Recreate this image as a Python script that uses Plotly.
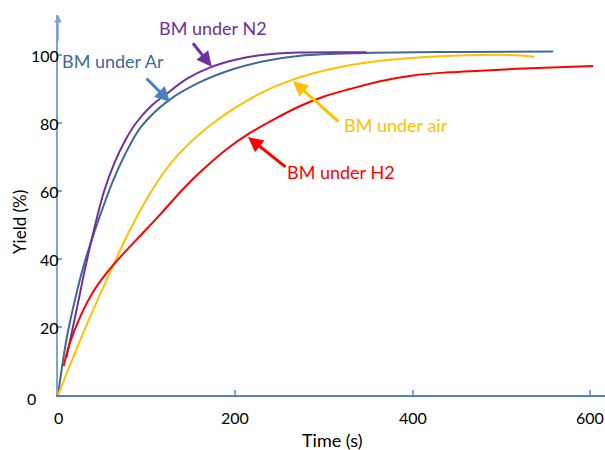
import plotly.graph_objects as go

# ---- data ----
t_ar = [0, 10, 20, 30, 45, 62, 80, 94, 124, 160, 197, 235, 273, 348, 450, 558]
y_ar = [0, 17, 29, 39, 51, 63, 73, 79, 86.5, 92, 95.8, 98.3, 99.8, 100.6, 100.9, 101]

t_n2 = [9.5, 16, 22.5, 30, 40, 52, 64, 76, 88, 105, 122, 145, 171, 200, 230, 270, 348]
y_n2 = [11, 19, 27, 36.5, 48, 60, 68.5, 75, 80, 85, 88.5, 93, 96.3, 98.6, 100, 100.7, 100.8]

t_air = [0, 28, 55, 80, 103, 125, 150, 175, 200, 230, 263, 310, 363, 419, 476, 510, 537]
y_air = [0, 18, 34, 48, 59, 67.5, 74.5, 80, 84.5, 89, 92.6, 96, 98.3, 99.5, 100, 100, 99.5]

t_h2 = [6.4, 13, 25, 40, 56, 77, 98, 120, 140, 160, 190, 216, 245, 273, 300, 329, 363, 400, 440, 476, 540, 603]
y_h2 = [8.5, 15, 23, 30.5, 36.3, 42.5, 48.3, 54.5, 60.3, 65.5, 72.3, 77, 81.3, 85, 87.8, 90, 92.3, 94, 94.9, 95.4, 96.2, 96.8]

x_ticks = [0, 200, 400, 600]
y_ticks = [20, 40, 60, 80, 100]

series = [
    ("BM under Ar", t_ar, y_ar, "#3F6A98"),
    ("BM under N2", t_n2, y_n2, "#7030A0"),
    ("BM under air", t_air, y_air, "#FFC000"),
    ("BM under H2", t_h2, y_h2, "#FF0000"),
]

FONT = "Lato"
W, H = 605, 450
L, R, T, B = 58, 0, 15, 55
PW, PH = W - L - R, H - T - B
XMAX = PW / 0.8873
YMAX = PH / 3.4


def px2data(px, py):
    return (px - L) / 0.8873, (H - B - py) / 3.4


def px2paper(px, py):
    return (px - L) / PW, (H - B - py) / PH


fig = go.Figure()
for name, t, y, c in series:
    fig.add_trace(go.Scatter(x=t, y=y, mode="lines", name=name,
                             line=dict(color=c, width=2, shape="spline", smoothing=1)))

ann = []
# tick labels
for v in y_ticks:
    ann.append(dict(x=0, y=v, xref="x", yref="y", text=str(v), showarrow=False,
                    xanchor="right", yanchor="middle", xshift=3,
                    font=dict(family=FONT, size=16, color="#000")))
ann.append(dict(x=0, y=0, xref="x", yref="y", text="0", showarrow=False,
                xanchor="center", yanchor="middle", xshift=-27, yshift=-3,
                font=dict(family=FONT, size=16, color="#000")))
for v in x_ticks:
    ann.append(dict(x=v, y=0, xref="x", yref="y", text=str(v), showarrow=False,
                    xanchor="center", yanchor="middle", yshift=-22,
                    font=dict(family=FONT, size=16, color="#000")))

# axis titles
px, py = px2paper(332, 440)
ann.append(dict(x=px, y=py, xref="paper", yref="paper",
                text="Time (s)", showarrow=False, xanchor="center", yanchor="middle",
                font=dict(family=FONT, size=18, color="#000")))
px, py = px2paper(19, 222)
ann.append(dict(x=px, y=py, xref="paper", yref="paper",
                text="Yield (%)", showarrow=False, textangle=-90, xanchor="center", yanchor="middle",
                font=dict(family=FONT, size=17, color="#000")))

# y-axis arrow head
ann.append(dict(x=0, y=YMAX, xref="x", yref="y", ax=0, ay=YMAX - 8, axref="x", ayref="y",
                showarrow=True, arrowhead=2, arrowsize=1, arrowwidth=1.5, arrowcolor="#7FA3D3", text=""))

# series labels with arrows
labels = [
    ("BM under N2", "#7030A0", "#7030A0", (213, 28), (211.7, 66.7), (191.7, 41.7)),
    ("BM under Ar", "#3F6A98", "#4A80BE", (113, 61), (170, 102), (145, 77)),
    ("BM under air", "#FFC000", "#FFC000", (396, 125), (293, 81), (340, 123)),
    ("BM under H2", "#FF0000", "#FF0000", (341, 172), (248, 137), (287, 168)),
]
for text, tc, ac, (tx, ty), (hx, hy), (sx, sy) in labels:
    dx, dy = px2data(tx, ty)
    ann.append(dict(x=dx, y=dy, xref="x", yref="y", text=text, showarrow=False,
                    xanchor="center", yanchor="middle",
                    font=dict(family=FONT, size=18, color=tc)))
    hxd, hyd = px2data(hx, hy)
    ann.append(dict(x=hxd, y=hyd, xref="x", yref="y", ax=sx - hx, ay=sy - hy,
                    showarrow=True, arrowhead=2, arrowsize=1, arrowwidth=3,
                    arrowcolor=ac, text=""))

fig.update_layout(
    width=W, height=H, margin=dict(l=L, r=R, t=T, b=B),
    paper_bgcolor="white", plot_bgcolor="white", showlegend=False,
    annotations=ann,
    xaxis=dict(range=[0, XMAX], showgrid=False, zeroline=False, showline=True,
               linecolor="#5580BA", linewidth=1.5, ticks="inside", ticklen=5, tickwidth=1.5,
               tickcolor="#7FA3D3", tickvals=x_ticks[1:], showticklabels=False),
    yaxis=dict(range=[0, YMAX], showgrid=False, zeroline=False, showline=True,
               linecolor="#7FA3D3", linewidth=1.5, ticks="inside", ticklen=4, tickwidth=1.5,
               tickcolor="#7FA3D3", tickvals=y_ticks, showticklabels=False),
)

fig.write_html("out.html")
